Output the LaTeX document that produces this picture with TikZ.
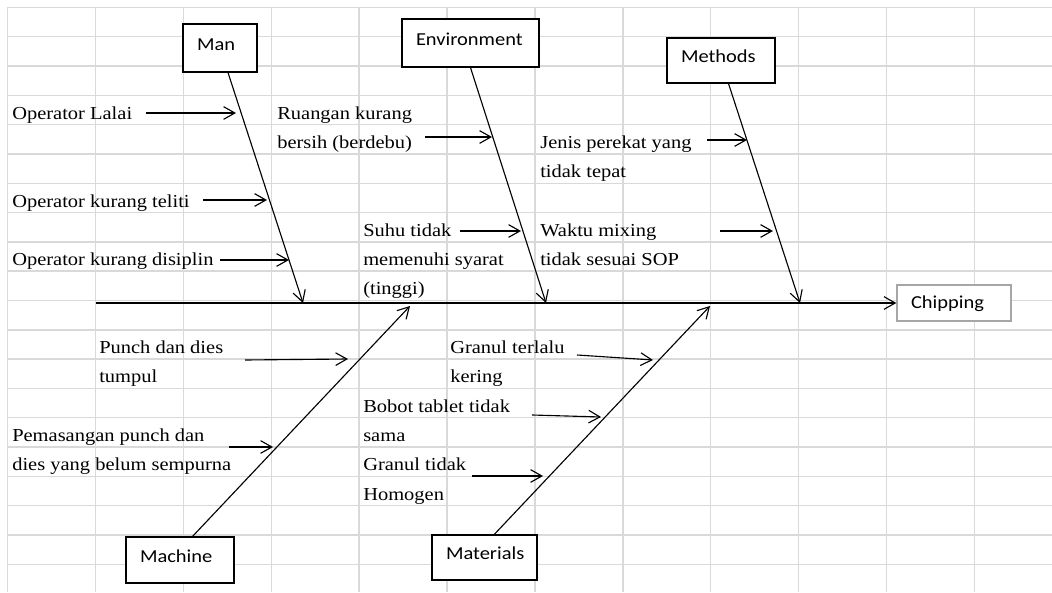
\documentclass[tikz,border=0pt]{standalone}
\usepackage{fontspec}
\setmainfont{Liberation Serif}[FakeStretch=1.12]
\newfontfamily\boxfont{Carlito}[FakeStretch=1.12]
\usetikzlibrary{arrows.meta}
\begin{document}
\begin{tikzpicture}[
    cell/.style={draw=fishgrid,line width=1pt},
    catbox/.style={shape=rectangle,draw,line width=0.9pt,fill=white,inner xsep=0.35cm,inner ysep=0pt,align=left,text height=0.75em,text depth=0.45em,font=\boxfont\fontsize{13}{16}\selectfont},
    cause/.style={anchor=north west,inner sep=0pt,align=left,font=\fontsize{13}{20.84}\selectfont},
    bone/.style={line width=0.8pt,-{Straight Barb[length=8pt,width=9pt]}},
  ]
    \definecolor{fishgrid}{RGB}{217,217,217}
    \definecolor{fishframe}{RGB}{166,166,166}
    \useasboundingbox (0,0) rectangle (26.3,14.8);
    \foreach \i in {0,...,11}
        \draw[cell] ({0.1875+2.1975*\i},0) -- ({0.1875+2.1975*\i},14.6125);
    \foreach \j in {0,...,19}
        \draw[cell] (0.1875,{14.6125-0.7325*\j}) -- (26.3,{14.6125-0.7325*\j});
    \node[catbox,text width=1.15cm,minimum height=1.2cm] (man) at (5.5,13.6) {Man};
    \node[catbox,text width=2.725cm,minimum height=1.2cm] (env) at (11.7625,13.725) {Environment};
    \node[catbox,text width=2.0cm,minimum height=1.125cm] (methods) at (18.025,13.2875) {Methods};
    \node[catbox,text width=2.0cm,minimum height=1.15cm] (machine) at (4.5,0.8) {Machine};
    \node[catbox,text width=1.925cm,minimum height=1.125cm] (materials) at (12.1125,0.8625) {Materials};
    \node[catbox,draw=fishframe,text width=2.15cm,minimum height=0.9cm,text depth=0pt] (chip) at (23.85,7.225) {Chipping};
    \node[cause] (lalai) at (0.3,12.145) {Operator Lalai};
    \node[cause] (teliti) at (0.3,9.9475) {Operator kurang teliti};
    \node[cause] (disiplin) at (0.3,8.4825) {Operator kurang disiplin};
    \node[cause] (ruangan) at (6.925,12.145) {Ruangan kurang\\bersih (berdebu)};
    \node[cause] (suhu) at (9.075,9.215) {Suhu tidak\\memenuhi syarat\\(tinggi)};
    \node[cause] (jenis) at (13.5,11.4125) {Jenis perekat yang\\tidak tepat};
    \node[cause] (waktu) at (13.5,9.215) {Waktu mixing\\tidak sesuai SOP};
    \node[cause] (punch) at (2.475,6.285) {Punch dan dies\\tumpul};
    \node[cause] (pemasangan) at (0.3,4.0875) {Pemasangan punch dan\\dies yang belum sempurna};
    \node[cause] (kering) at (11.25,6.285) {Granul terlalu\\kering};
    \node[cause] (bobot) at (9.075,4.82) {Bobot tablet tidak\\sama};
    \node[cause] (homogen) at (9.075,3.355) {Granul tidak\\Homogen};
    \coordinate (spine) at (2.4,7.225);
    \coordinate (manhead) at (7.575,7.225);
    \coordinate (envhead) at (13.65,7.225);
    \coordinate (methodshead) at (20.0,7.225);
    \coordinate (machinehead) at (10.25,7.15);
    \coordinate (materialshead) at (17.75,7.15);
    \draw[bone] (spine) -- (chip.west);
    \draw[bone] (man) -- (manhead);
    \draw[bone] (env.south) -- (envhead);
    \draw[bone] (methods) -- (methodshead);
    \draw[bone] (machine.62) -- (machinehead);
    \draw[bone] (materials.67) -- (materialshead);
    \coordinate (lalaitail) at (3.65,11.975);
    \coordinate (lalaitip) at (5.9,11.975);
    \coordinate (telititail) at (5.075,9.8);
    \coordinate (telititip) at (6.675,9.8);
    \coordinate (disiplintail) at (5.5,8.3);
    \coordinate (disiplintip) at (7.225,8.3);
    \coordinate (ruangantail) at (10.625,11.375);
    \coordinate (ruangantip) at (12.3,11.375);
    \coordinate (suhutail) at (11.5,9.025);
    \coordinate (suhutip) at (13.025,9.025);
    \coordinate (jenistail) at (17.675,11.3);
    \coordinate (jenistip) at (18.675,11.3);
    \coordinate (waktutail) at (18.0,9.025);
    \coordinate (waktutip) at (19.325,9.025);
    \coordinate (punchtail) at (6.125,5.8);
    \coordinate (punchtip) at (8.7,5.825);
    \coordinate (pemasangantail) at (5.725,3.625);
    \coordinate (pemasangantip) at (6.825,3.625);
    \coordinate (keringtail) at (14.425,5.925);
    \coordinate (keringtip) at (16.325,5.8);
    \coordinate (bobottail) at (13.3,4.425);
    \coordinate (bobottip) at (15.025,4.375);
    \coordinate (homogentail) at (11.8,2.9);
    \coordinate (homogentip) at (13.575,2.9);
    \foreach \c in {lalai,teliti,disiplin,ruangan,suhu,jenis,waktu,punch,pemasangan,kering,bobot,homogen}
        \draw[bone] (\c tail) -- (\c tip);
\end{tikzpicture}
\end{document}
